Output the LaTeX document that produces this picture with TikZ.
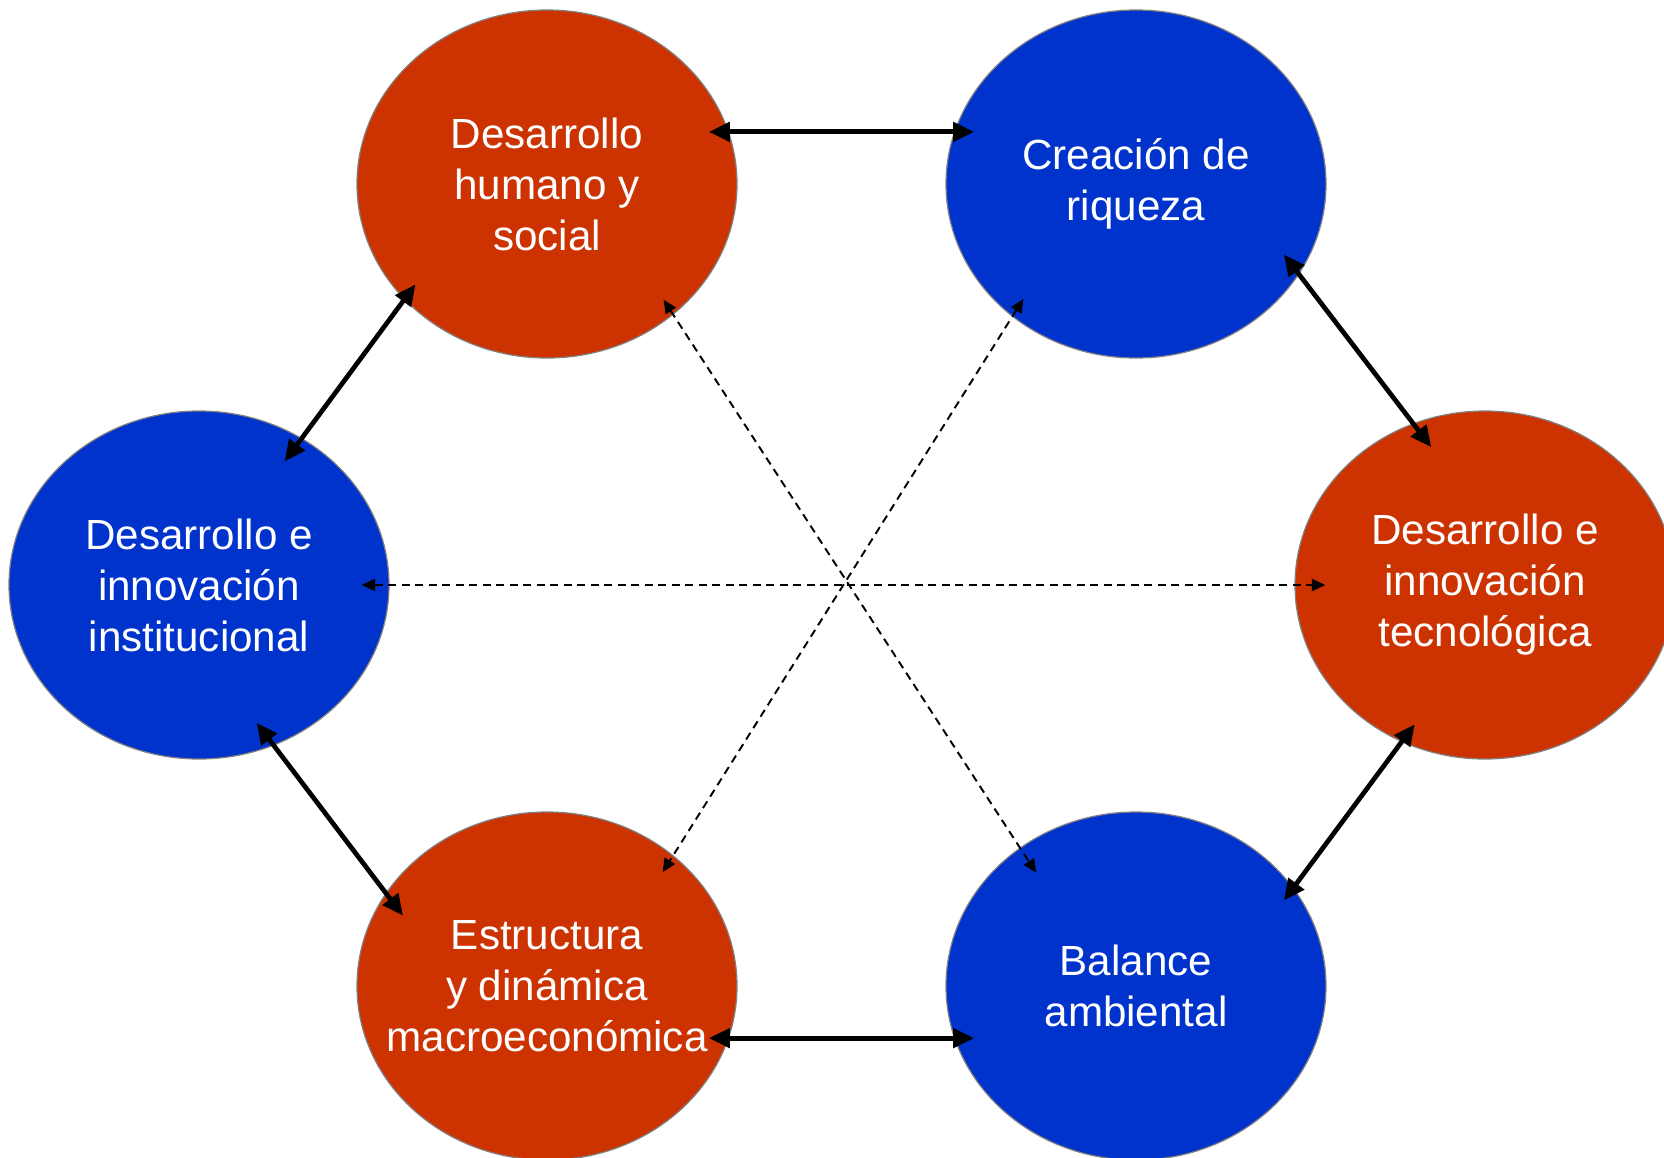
\documentclass[tikz,border=0pt]{standalone}
\usepackage{fontspec}
\setmainfont{Liberation Sans}
\usetikzlibrary{shapes.geometric, arrows.meta}
\definecolor{red1}{RGB}{204,51,0}
\definecolor{blue1}{RGB}{0,51,204}
\tikzstyle{circ} = [ellipse, draw=gray, line width=0.7pt, minimum width=7.6cm, minimum height=6.96cm, inner xsep=-1.5cm, inner ysep=0pt, align=center, text=white, font=\fontsize{24}{29}\selectfont]
\tikzstyle{redc} = [circ, fill=red1]
\tikzstyle{bluec} = [circ, fill=blue1]
\tikzstyle{link} = [line width=2.7pt, {Triangle[length=0.42cm,width=0.38cm]}-{Triangle[length=0.42cm,width=0.38cm]}]
\tikzstyle{dlink} = [line width=1.1pt, dash pattern=on 0.16cm off 0.11cm, {Triangle[length=0.27cm,width=0.24cm]}-{Triangle[length=0.27cm,width=0.24cm]}]

\begin{document}
\begin{tikzpicture}
	\useasboundingbox (0,0) rectangle (33.28,-23.14);
	% Ejes
	\node [redc]  (D01) at (10.94,-3.68)  {Desarrollo\\humano y\\social};
	\node [bluec] (C01) at (22.72,-3.68)  {Creación de\\riqueza};
	\node [bluec] (I01) at (3.98,-11.70)  {Desarrollo e\\innovación\\institucional};
	\node [redc]  (T01) at (29.70,-11.70) {Desarrollo e\\innovación\\tecnológica};
	\node [redc]  (E01) at (10.94,-19.72) {Estructura\\y dinámica\\macroeconómica};
	\node [bluec] (B01) at (22.72,-19.72) {Balance\\ambiental};

	\draw [link, shorten <=-0.4cm, shorten >=-0.4cm] (D01.16) to (C01.164);
	\draw [link, shorten <=-0.4cm, shorten >=-0.4cm] (E01.-16) to (B01.196);
	\draw [link, shorten <=-0.38cm, shorten >=-0.58cm] (D01.219) to (I01.55);
	\draw [link, shorten <=-0.5cm, shorten >=-0.6cm] (C01.-29) to (T01.114);
	\draw [link, shorten <=-0.57cm, shorten >=-0.57cm] (I01.-65) to (E01.150);
	\draw [link, shorten <=-0.44cm, shorten >=-0.32cm] (T01.-118) to (B01.32);

	\draw [dlink, shorten <=-0.56cm, shorten >=-0.62cm] (I01.0) to (T01.180);
	\draw [dlink, shorten <=-0.36cm, shorten >=-0.6cm] (D01.-46) to (B01.130);
	\draw [dlink, shorten <=-0.42cm, shorten >=-0.4cm] (C01.-133) to (E01.46);
\end{tikzpicture}
\end{document}
